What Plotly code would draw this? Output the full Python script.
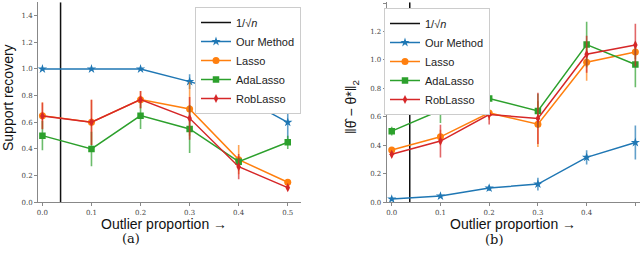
import plotly.graph_objects as go

# ---------------- data ----------------
x_prop = [0.0, 0.1, 0.2, 0.3, 0.4, 0.5]
x_tick_vals = [0.0, 0.1, 0.2, 0.3, 0.4, 0.5]
x_tick_text = ["0.0", "0.1", "0.2", "0.3", "0.4", "0.5"]
y_tick_vals = [0.0, 0.2, 0.4, 0.6, 0.8, 1.0, 1.2, 1.4]
y_tick_text = ["0.0", "0.2", "0.4", "0.6", "0.8", "1.0", "1.2", "1.4"]
inv_sqrt_n = 0.037

series_names = ["Our Method", "Lasso", "AdaLasso", "RobLasso"]

# (a) support recovery
supp_our = [1.0, 1.0, 1.0, 0.905, 0.80, 0.60]
supp_our_err = [0.0, 0.0, 0.0, 0.055, 0.12, 0.17]
supp_lasso = [0.65, 0.60, 0.77, 0.70, 0.32, 0.15]
supp_lasso_err = [0.10, 0.17, 0.065, 0.20, 0.11, 0.02]
supp_ada = [0.50, 0.40, 0.65, 0.55, 0.305, 0.45]
supp_ada_err = [0.11, 0.13, 0.10, 0.18, 0.03, 0.05]
supp_rob = [0.647, 0.60, 0.77, 0.63, 0.267, 0.11]
supp_rob_err = [0.10, 0.17, 0.065, 0.16, 0.095, 0.02]

# (b) estimation error
err_our = [0.023, 0.044, 0.10, 0.128, 0.316, 0.42]
err_our_err = [0.01, 0.01, 0.02, 0.045, 0.05, 0.12]
err_lasso = [0.367, 0.46, 0.628, 0.549, 0.984, 1.056]
err_lasso_err = [0.02, 0.05, 0.05, 0.16, 0.13, 0.05]
err_ada = [0.50, 0.647, 0.729, 0.642, 1.108, 0.968]
err_ada_err = [0.03, 0.09, 0.07, 0.12, 0.16, 0.16]
err_rob = [0.337, 0.43, 0.617, 0.589, 1.04, 1.105]
err_rob_err = [0.02, 0.115, 0.07, 0.18, 0.13, 0.15]

# ---------------- styles ----------------
colors = ["#1f77b4", "#ff7f0e", "#2ca02c", "#d62728"]
err_colors = ["rgba(31,119,180,0.7)", "rgba(255,127,14,0.7)",
              "rgba(44,160,44,0.7)", "rgba(214,39,40,0.7)"]
symbols = ["star", "circle", "square", "diamond-tall"]
msizes = [7, 7, 6.5, 6.5]

W, H = 640, 255
def px_x(p):
    return p / W
def px_y(p):
    return 1 - p / H

fig = go.Figure()

panels = [
    dict(xa="x", ya="y", legend="legend", ymax=1.5,
         data=[(supp_our, supp_our_err), (supp_lasso, supp_lasso_err),
               (supp_ada, supp_ada_err), (supp_rob, supp_rob_err)]),
    dict(xa="x2", ya="y2", legend="legend2", ymax=1.405,
         data=[(err_our, err_our_err), (err_lasso, err_lasso_err),
               (err_ada, err_ada_err), (err_rob, err_rob_err)]),
]

for p in panels:
    fig.add_trace(go.Scatter(
        x=[inv_sqrt_n, inv_sqrt_n], y=[0, p["ymax"]], mode="lines",
        line=dict(color="#111111", width=1.5), name="1/√<i>n</i>",
        xaxis=p["xa"], yaxis=p["ya"], legend=p["legend"]))
    for i, (vals, errs) in enumerate(p["data"]):
        fig.add_trace(go.Scatter(
            x=x_prop, y=vals, mode="lines+markers", name=series_names[i],
            line=dict(color=colors[i], width=1.5),
            marker=dict(color=colors[i], symbol=symbols[i], size=msizes[i],
                        line=dict(width=0)),
            error_y=dict(type="data", array=errs, visible=True,
                         color=err_colors[i], thickness=1.6, width=0),
            xaxis=p["xa"], yaxis=p["ya"], legend=p["legend"]))

tickfont = dict(family="DejaVu Serif", size=7, color="#444444")
common_x = dict(tickmode="array", tickvals=x_tick_vals, ticktext=x_tick_text,
                showgrid=False, zeroline=False, showline=True, linecolor="#888888",
                linewidth=1, ticks="outside", ticklen=3, tickcolor="#888888",
                tickfont=tickfont, mirror=False, automargin=False)
common_y = dict(tickmode="array", tickvals=y_tick_vals, ticktext=y_tick_text,
                showgrid=False, zeroline=False, showline=True, linecolor="#888888",
                linewidth=1, ticks="outside", ticklen=3, tickcolor="#888888",
                tickfont=tickfont, mirror=False, automargin=False)

legend_font = dict(family="Liberation Sans", size=11, color="#222222")
y_bottom = px_y(202.3)
fig.update_layout(
    template="none",
    width=W, height=H,
    margin=dict(l=0, r=0, t=0, b=0, autoexpand=False),
    paper_bgcolor="white", plot_bgcolor="white",
    showlegend=True,
    xaxis=dict(domain=[px_x(38), px_x(301)], range=[-0.009, 0.527],
               anchor="y", **common_x),
    yaxis=dict(domain=[y_bottom, px_y(2.3)], range=[0, 1.5], anchor="x", **common_y),
    xaxis2=dict(domain=[px_x(386.7), 1.0], range=[-0.0103, 0.5095],
                anchor="y2", **common_x),
    yaxis2=dict(domain=[y_bottom, px_y(2.3)], range=[0, 1.405], anchor="x2", **common_y),
    legend=dict(x=px_x(195), y=px_y(7), xanchor="left", yanchor="top",
                bgcolor="white", bordercolor="#cccccc", borderwidth=1,
                font=legend_font, tracegroupgap=0, itemwidth=30),
    legend2=dict(x=px_x(384), y=px_y(8), xanchor="left", yanchor="top",
                 bgcolor="white", bordercolor="#cccccc", borderwidth=1,
                 font=legend_font, tracegroupgap=0, itemwidth=30),
)

label_font = dict(family="Liberation Sans", size=14, color="#111111")
cap_font = dict(family="DejaVu Serif", size=13, color="#111111")
annots = [
    dict(text="Outlier proportion →", x=px_x(164), y=px_y(224), font=label_font),
    dict(text="Outlier proportion →", x=px_x(513), y=px_y(224), font=label_font),
    dict(text="Support recovery", x=px_x(8), y=px_y(98), textangle=-90, font=label_font),
    dict(text="‖θ̂ − θ*‖<sub>2</sub>", x=px_x(352), y=px_y(107), textangle=-90,
         font=label_font),
    dict(text="(a)", x=px_x(131), y=px_y(238), font=cap_font),
    dict(text="(b)", x=px_x(494), y=px_y(239), font=cap_font),
]
for a in annots:
    fig.add_annotation(xref="paper", yref="paper", showarrow=False,
                       xanchor="center", yanchor="middle", **a)

fig.write_html("out.html",
               config={"displayModeBar": False},
               post_script="document.body.style.margin='0';document.body.style.overflow='hidden';")
